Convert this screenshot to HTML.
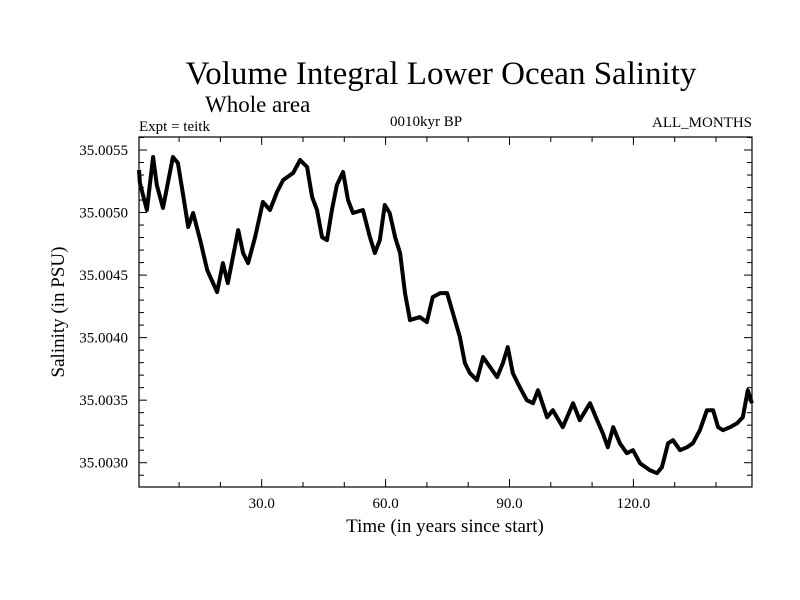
<!DOCTYPE html>
<html><head><meta charset="utf-8"><style>
html,body{margin:0;padding:0;background:#fff;}
svg{display:block;font-family:"Liberation Serif",serif;}
</style></head><body>
<svg id="chart" width="800" height="600" viewBox="0 0 800 600">
<rect width="800" height="600" fill="#fff"/>
<text x="441" y="84" font-size="33" text-anchor="middle">Volume Integral Lower Ocean Salinity</text>
<text x="205" y="112" font-size="23">Whole area</text>
<text x="139" y="131" font-size="15">Expt = teitk</text>
<text x="390" y="126" font-size="15">0010kyr BP</text>
<text x="752" y="127" font-size="15" text-anchor="end">ALL_MONTHS</text>
<text x="445" y="532" font-size="19" text-anchor="middle">Time (in years since start)</text>
<text transform="translate(64,312) rotate(-90)" font-size="19" text-anchor="middle">Salinity (in PSU)</text>
<g id="axes"></g>
<path id="series" fill="none" stroke="#000" stroke-width="4" stroke-linejoin="round"/>
<rect x="139" y="137" width="613" height="350" fill="none" stroke="#000" stroke-width="1.2"/>
</svg>
<script>
const years=[0.3,0.5,2.2,3.7,4.6,6.1,8.5,9.7,10.9,12.2,13.4,15.1,16.8,19.2,20.6,21.8,24.3,25.5,26.7,28.4,30.3,32.0,33.7,35.2,37.6,39.3,41.0,42.2,43.4,44.6,45.8,47.0,48.2,49.7,50.9,52.1,54.5,56.2,57.4,58.6,59.8,61.0,62.3,63.5,64.7,65.9,68.3,70.0,71.4,73.2,74.9,75.6,76.3,78.0,79.2,80.4,82.1,83.6,85.3,87.0,88.4,89.6,90.8,92.5,94.2,95.7,96.9,99.1,100.5,102.9,105.4,107.0,109.5,111.2,112.6,113.8,115.1,116.7,118.4,119.9,121.6,124.0,125.7,126.9,128.4,129.6,131.3,133.0,134.4,136.1,137.8,139.3,140.5,141.7,143.4,145.1,146.5,147.7,148.7];
const salinity=[35.00534,35.005236,35.00502,35.005444,35.00522,35.005036,35.005444,35.005396,35.005156,35.004884,35.004996,35.00478,35.00454,35.004364,35.004596,35.004436,35.00486,35.004676,35.004596,35.004804,35.005084,35.00502,35.005164,35.00526,35.005316,35.00542,35.005364,35.005124,35.00502,35.004804,35.00478,35.00502,35.00522,35.005324,35.0051,35.004996,35.00502,35.004804,35.004676,35.00478,35.00506,35.004996,35.004804,35.004676,35.004356,35.00414,35.004164,35.004124,35.004324,35.004356,35.004356,35.004276,35.004196,35.004004,35.003796,35.003716,35.00366,35.003844,35.003764,35.003684,35.003796,35.003924,35.003716,35.003604,35.0035,35.003476,35.00358,35.003364,35.00342,35.003284,35.003476,35.00334,35.003476,35.00334,35.003236,35.003124,35.003284,35.003156,35.003076,35.0031,35.002996,35.00294,35.002916,35.002964,35.003156,35.00318,35.0031,35.003124,35.003156,35.00326,35.00342,35.00342,35.003284,35.00326,35.003284,35.003316,35.003364,35.00358,35.003476];
const xTickLabels=["30.0","60.0","90.0","120.0"];
const xTickValues=[30,60,90,120];
const yTickLabels=["35.0030","35.0035","35.0040","35.0045","35.0050","35.0055"];
const yTickValues=[35.0030,35.0035,35.0040,35.0045,35.0050,35.0055];

const X0=137.8, XS=4.13;
const Y0=150, YV=35.0055, YS=125080;
function xs(v){return X0+v*XS;}
function ys(v){return Y0-(v-YV)*YS;}
const NS="http://www.w3.org/2000/svg";
const axes=document.getElementById('axes');
function line(x1,y1,x2,y2,name){
  const l=document.createElementNS(NS,'line');
  l.setAttribute('x1',x1);l.setAttribute('y1',y1);l.setAttribute('x2',x2);l.setAttribute('y2',y2);
  l.setAttribute('stroke','#000');l.setAttribute('stroke-width','1');
  
  
  axes.appendChild(l);
}
function text(x,y,s,anchor,name){
  const t=document.createElementNS(NS,'text');
  t.setAttribute('x',x);t.setAttribute('y',y);t.setAttribute('font-size','15');t.setAttribute('text-anchor',anchor);
  t.textContent=s;
  
  
  axes.appendChild(t);
}
for(let v=10;v<=140;v+=10){
  const major=v%30===0;
  const x=xs(v);
  line(x,487,x,487-(major?8:5),'x-tick');
  line(x,137,x,137+(major?8:5),'x-tick-top');
}
xTickValues.forEach((v,i)=>text(xs(v),508,xTickLabels[i],'middle','x-tick-label'));
for(let k=28;k<=56;k++){
  const v=k/10000+35;
  const y=ys(v);
  if(y<137||y>487) continue;
  const major=k%5===0;
  line(139,y,139+(major?8:5),y,'y-tick');
  line(752,y,752-(major?8:5),y,'y-tick-right');
}
yTickValues.forEach((v,i)=>text(128,ys(v)+5,yTickLabels[i],'end','y-tick-label'));
let d='';
years.forEach((yr,i)=>{d+=(i?'L':'M')+xs(yr).toFixed(1)+','+ys(salinity[i]).toFixed(1);});
document.getElementById('series').setAttribute('d',d);
</script>
</body></html>
